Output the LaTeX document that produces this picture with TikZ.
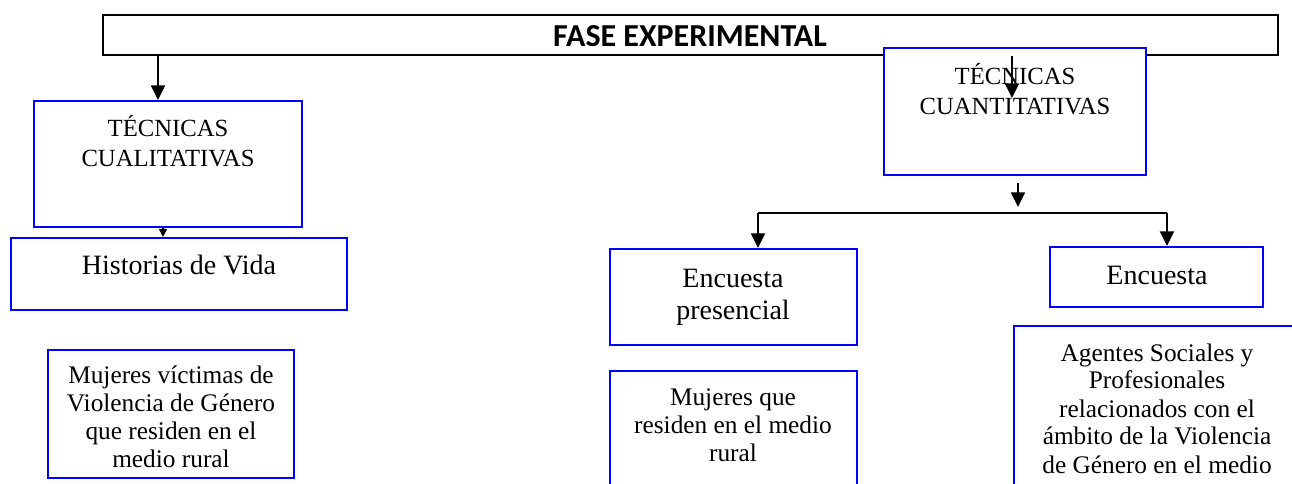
\documentclass[tikz,border=0pt]{standalone}
\usepackage{fontspec}
\setmainfont{Liberation Serif}
\newfontfamily\headfont{Carlito}
\usetikzlibrary{arrows.meta,fit}
\definecolor{boxblue}{RGB}{0,0,255}
\tikzset{
  bluebox/.style={draw=boxblue, line width=1.5pt, fill=white, inner sep=0pt},
  headbox/.style={draw=black, line width=1.6pt, fill=white, inner sep=0pt},
  headtxt/.style={inner sep=0pt, font=\headfont\bfseries\fontsize{24}{28}\selectfont},
  txt/.style={align=center, inner sep=0pt, anchor=base,
    font=\fontsize{19}{21}\selectfont},
  bigtxt/.style={align=center, inner sep=0pt, anchor=base,
    font=\fontsize{21}{24}\selectfont},
  capstxt/.style={align=center, inner sep=0pt, anchor=base,
    font=\fontsize{18.5}{22.5}\selectfont},
  arr/.style={-{Triangle[width=10.5pt,length=11pt]}, line width=1.5pt},
  smallarr/.style={-{Triangle[width=6pt,length=6pt]}, line width=1.2pt},
  plainline/.style={line width=1.5pt},
}
\begin{document}
\begin{tikzpicture}[x=0.75pt,y=-0.75pt]
\useasboundingbox (0,0) rectangle (1292,484);
\clip (0,0) rectangle (1292,484);

% header
\node[headbox, fit={(103,15) (1278,55)}] (fase) {};
\node[headtxt] (fasetxt) at (690,36) {FASE EXPERIMENTAL};

% qualitative branch
\node[bluebox, fit={(34,101) (302,227)}] (tcual) {};
\node[capstxt] (tcualtxt) at (168,167) {TÉCNICAS\\CUALITATIVAS};
\node[bluebox, fit={(11,238) (347,310)}] (hist) {};
\node[bigtxt] (histtxt) at (179,275) {Historias de Vida};
\node[bluebox, fit={(48,350) (294,478)}] (mvict) {};
\node[txt] (mvicttxt) at (171,467) {Mujeres víctimas de\\Violencia de Género\\que residen en el\\medio rural};

% quantitative branch
\node[bluebox, fit={(884,48) (1146,175)}] (tcuant) {};
\node[capstxt] (tcuanttxt) at (1015,115) {TÉCNICAS\\CUANTITATIVAS};
\node[bluebox, fit={(610,249) (857,345)}] (encp) {};
\node[bigtxt] (encptxt) at (733,320) {Encuesta\\presencial};
\node[bluebox, fit={(1050,247) (1263,307)}] (enco) {};
\node[bigtxt] (encotxt) at (1157,285) {Encuesta};
\node[bluebox, fit={(610,371) (857,530)}] (mres) {};
\node[txt] (mrestxt) at (733,461) {Mujeres que\\residen en el medio\\rural};
\node[bluebox, fit={(1014,326) (1320,530)}] (agen) {};
\node[txt] (agentxt) at (1157,473) {Agentes Sociales y\\Profesionales\\relacionados con el\\ámbito de la Violencia\\de Género en el medio};

% connector coordinates
\coordinate (xa) at (158,0);
\coordinate (xb) at (163,0);
\coordinate (xc) at (1012,0);
\coordinate (cEnd) at (1012,98);
\coordinate (dStart) at (1018,183);
\coordinate (dEnd) at (1018,207);
\coordinate (hL) at (758,213);
\coordinate (hR) at (1167,213);

% connectors
\draw[arr] (fase.south -| xa) -- (tcual.north -| xa);
\draw[smallarr] (tcual.south -| xb) -- (hist.north -| xb);
\draw[arr] (fase.south -| xc) -- (cEnd);
\draw[arr] (dStart) -- (dEnd);
\draw[plainline] (hL) -- (hR);
\draw[arr] (hL) -- (encp.north -| hL);
\draw[arr] (hR) -- (enco.north -| hR);
\end{tikzpicture}
\end{document}
